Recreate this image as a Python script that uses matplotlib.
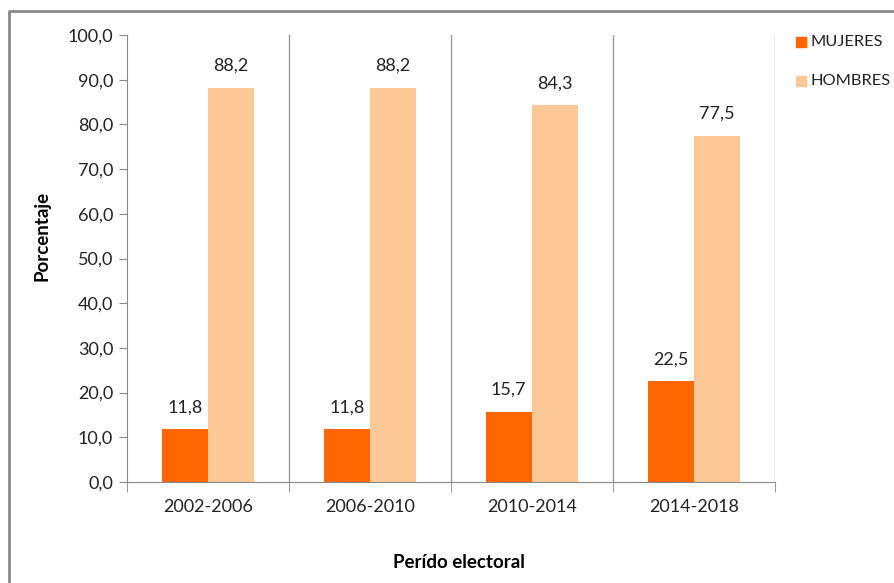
import matplotlib
matplotlib.use("Agg")
import matplotlib.pyplot as plt
from matplotlib.lines import Line2D
from matplotlib.patches import Rectangle
import numpy as np

categories = ["2002-2006", "2006-2010", "2010-2014", "2014-2018"]
mujeres = [11.8, 11.8, 15.7, 22.5]
hombres = [88.2, 88.2, 84.3, 77.5]
yticks = [0, 10, 20, 30, 40, 50, 60, 70, 80, 90, 100]

plt.rcParams['font.family'] = ['Lato', 'DejaVu Sans']
W, H = 895, 583
fig = plt.figure(figsize=(W/100, H/100), dpi=100)
ax = fig.add_axes([127/W, 1-482/H, (775-127)/W, (482-35)/H])

c_m = "#FF6600"
c_h = "#FFC896"
fs = 13
bw = 0.287
x = np.arange(len(categories))
bm = ax.bar(x - bw/2, mujeres, bw, color=c_m, label="MUJERES")
bh = ax.bar(x + bw/2, hombres, bw, color=c_h, label="HOMBRES")

def fmt(v):
    return f"{v:.1f}".replace(".", ",")

for bars, vals in ((bm, mujeres), (bh, hombres)):
    for b, v in zip(bars, vals):
        ax.annotate(fmt(v), (b.get_x() + b.get_width()/2, v), xytext=(0, 10),
                    textcoords="offset points", ha="center", va="bottom",
                    fontsize=fs, color="#222222")

ax.set_xlim(-0.5, len(categories) - 0.5)
ax.set_ylim(0, 100)
ax.set_yticks(yticks)
ax.set_yticklabels([fmt(v) for v in yticks], fontsize=fs, color="#222222")
ax.set_xticks(x)
ax.set_xticklabels(categories, fontsize=fs, color="#222222")
ax.tick_params(axis="x", length=0, pad=12)
ax.tick_params(axis="y", length=6, color="#888888", pad=4)

# category boundary lines and ticks
for b in np.arange(0.5, len(categories), 1.0):
    ax.axvline(b, color="#999999", lw=1, zorder=0)
ax.set_xticks(np.arange(-0.5, len(categories), 1.0), minor=True)
ax.tick_params(axis="x", which="minor", length=7, color="#888888")

for s in ("top", "right"):
    ax.spines[s].set_visible(False)
ax.spines["left"].set_color("#888888")
ax.spines["bottom"].set_color("#888888")

fig.text(42/W, 1-236/H, "Porcentaje", ha="center", va="center", rotation=90,
         fontsize=13.5, fontweight="bold")
fig.text(459/W, 1-562/H, "Perído electoral", ha="center", va="center",
         fontsize=13.5, fontweight="bold")

# legend
fig.patches.append(Rectangle((796/W, 1-47/H), 10/W, 10/H, transform=fig.transFigure,
                             color=c_m))
fig.patches.append(Rectangle((796/W, 1-86/H), 10/W, 10/H, transform=fig.transFigure,
                             color=c_h))
fig.text(811/W, 1-42/H, "MUJERES", va="center", ha="left", fontsize=11.8, color="#222222")
fig.text(811/W, 1-81/H, "HOMBRES", va="center", ha="left", fontsize=11.8, color="#222222")

# chart border (partly cut off)
fig.add_artist(Line2D([9/W, 9/W, 1.0], [0.0, 1-11/H, 1-11/H], transform=fig.transFigure,
                      color="#888888", lw=2))

fig.savefig("out.png", dpi=100)
